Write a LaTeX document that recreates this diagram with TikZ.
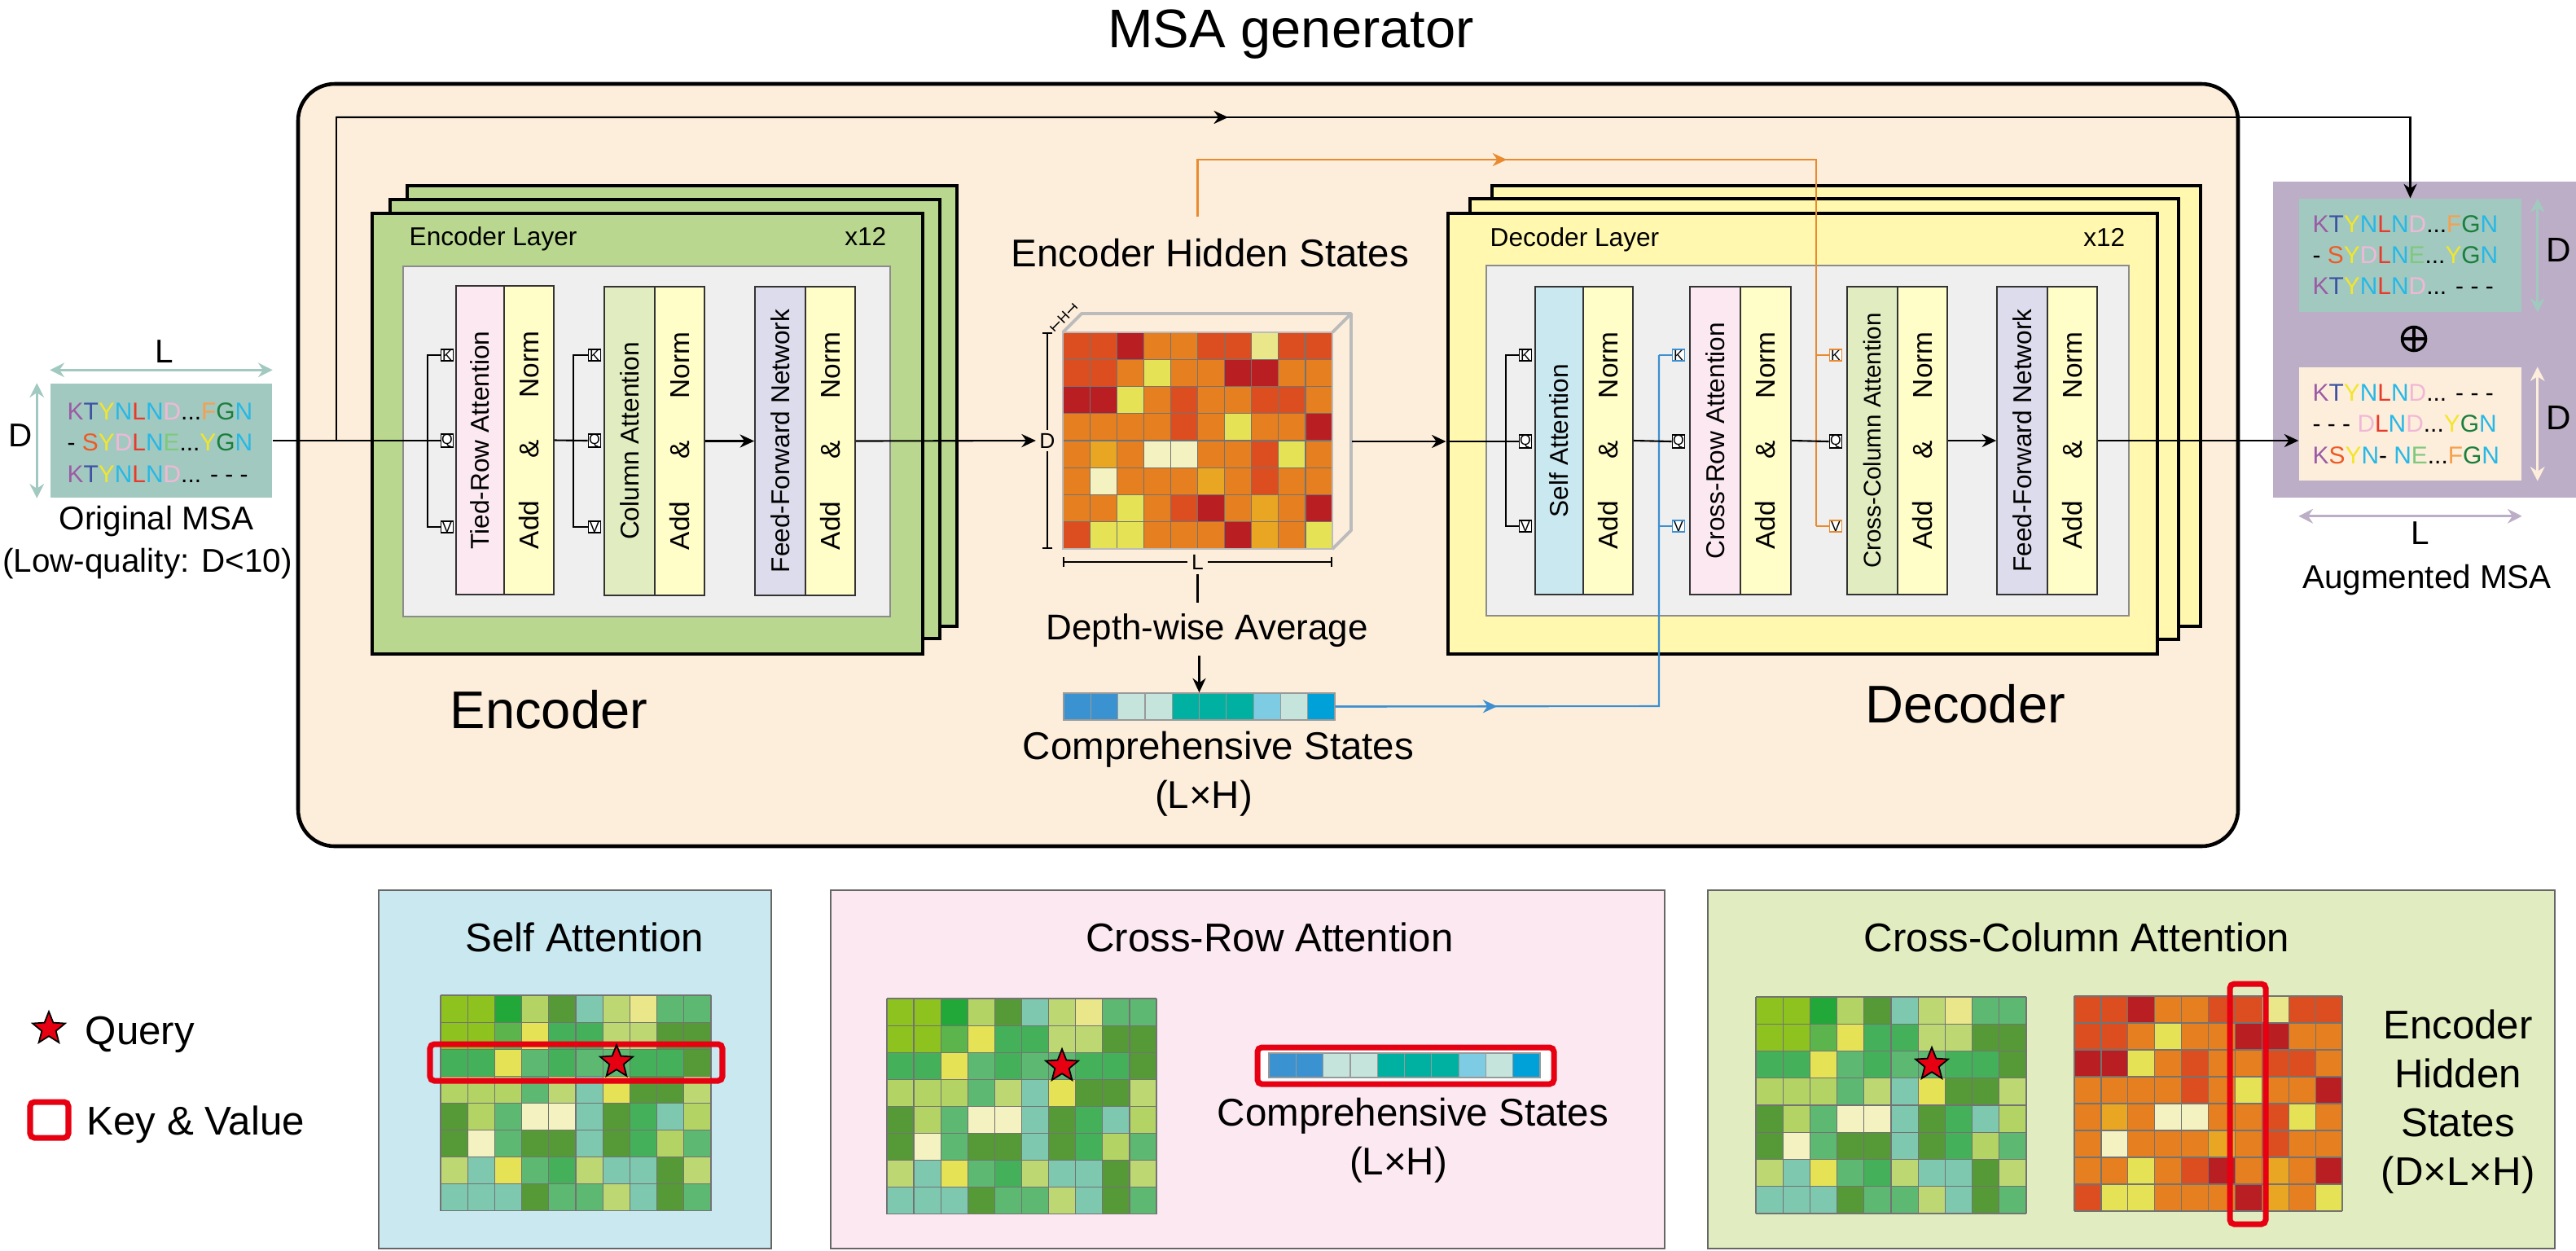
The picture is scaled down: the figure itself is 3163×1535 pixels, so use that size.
\documentclass[tikz,border=0pt]{standalone}
\usepackage{fontspec}
\setmainfont{Liberation Sans}
\usetikzlibrary{shapes.geometric,arrows.meta,calc,fit}

\definecolor{genbg}{HTML}{FDEEDC}
\definecolor{encg}{HTML}{B9D78F}
\definecolor{decy}{HTML}{FFF8AE}
\definecolor{panelg}{HTML}{EFEFEF}
\definecolor{pinkb}{HTML}{FCE8F1}
\definecolor{greenb}{HTML}{E1EDC0}
\definecolor{lavb}{HTML}{DDDCEC}
\definecolor{addn}{HTML}{FFFDC8}
\definecolor{blueb}{HTML}{CAE8F0}
\definecolor{msateal}{HTML}{A2C9C0}
\definecolor{augpur}{HTML}{BCAEC6}
\definecolor{orln}{HTML}{E98A2F}
\definecolor{blln}{HTML}{3C8FD0}
\definecolor{kvred}{HTML}{E60012}
\definecolor{cubegray}{HTML}{BBBBBB}
\definecolor{lP}{HTML}{9B5BA5}
\definecolor{lB}{HTML}{3E52A3}
\definecolor{lY}{HTML}{F2E62A}
\definecolor{lC}{HTML}{27B8E6}
\definecolor{lR}{HTML}{E8392B}
\definecolor{lK}{HTML}{F0B8D6}
\definecolor{lO}{HTML}{F6A04D}
\definecolor{lG}{HTML}{1A7F3C}
\definecolor{lS}{HTML}{EE5A24}
\definecolor{lE}{HTML}{7FC97F}
\definecolor{gYG}{HTML}{8DC21F}
\definecolor{gGR}{HTML}{22A838}
\definecolor{gLG}{HTML}{B3D465}
\definecolor{gDG}{HTML}{559A36}
\definecolor{gTL}{HTML}{7EC8B0}
\definecolor{gPL}{HTML}{BDD873}
\definecolor{gPY}{HTML}{E9E78A}
\definecolor{gMG}{HTML}{5DB872}
\definecolor{gBG}{HTML}{44B05A}
\definecolor{gSG}{HTML}{5BB54C}
\definecolor{gYY}{HTML}{E5E355}
\definecolor{gCR}{HTML}{F3F2C0}
\definecolor{oRR}{HTML}{DC4E20}
\definecolor{oRD}{HTML}{B81E22}
\definecolor{oOR}{HTML}{E57F1F}
\definecolor{oAM}{HTML}{E8A623}
\definecolor{cba}{HTML}{3A93D0}
\definecolor{cbb}{HTML}{C4E4DC}
\definecolor{cbc}{HTML}{00B0A0}
\definecolor{cbd}{HTML}{7ECBE4}
\definecolor{cbe}{HTML}{00A0D8}

\newcommand\fsz[2]{\fontsize{#1}{#2}\selectfont}

\def\greenlist{{gYG,gYG,gGR,gLG,gDG,gTL,gPL,gPY,gMG,gMG},{gYG,gYG,gSG,gYY,gBG,gBG,gPL,gPL,gDG,gDG},{gBG,gBG,gYY,gMG,gBG,gMG,gMG,gBG,gBG,gDG},{gLG,gLG,gLG,gMG,gPL,gTL,gYY,gDG,gDG,gPL},{gDG,gLG,gMG,gCR,gCR,gTL,gDG,gBG,gTL,gLG},{gDG,gCR,gMG,gDG,gDG,gTL,gDG,gBG,gLG,gMG},{gPL,gTL,gYY,gMG,gBG,gPL,gTL,gTL,gDG,gPL},{gTL,gTL,gTL,gDG,gMG,gMG,gPL,gTL,gDG,gMG}}
\def\orangelist{{oRR,oRR,oRD,oOR,oOR,oRR,oRR,gPY,oRR,oRR},{oRR,oRR,oOR,gYY,oOR,oOR,oRD,oRD,oOR,oOR},{oRD,oRD,gYY,oOR,oRR,oOR,oOR,oRR,oRR,oOR},{oOR,oOR,oOR,oOR,oRR,oOR,gYY,oOR,oOR,oRD},{oOR,oAM,oOR,gCR,gCR,oOR,oOR,oRR,gYY,oOR},{oOR,gCR,oOR,oOR,oOR,oAM,oOR,oRR,oOR,oOR},{oOR,oOR,gYY,oOR,oRR,oRD,oOR,oAM,oOR,oRD},{oRR,gYY,gYY,oOR,oOR,oOR,oRD,oAM,oOR,gYY}}

\tikzset{
  gridln/.style={draw=black!55, line width=0.35pt},
  conn/.style={line width=0.6pt, draw=black},
  arr/.style={conn, -{Stealth[length=5pt,width=4.6pt]}},
  layer/.style={draw=black, line width=1.2pt, inner sep=0pt},
  ipanel/.style={draw=black!45, line width=0.5pt, fill=panelg, inner sep=0pt},
  blk/.style={draw=black!80, line width=0.5pt, inner sep=0pt},
  kqvbox/.style={draw, fill=white, line width=0.5pt, minimum width=0.15cm, minimum height=0.14cm, inner sep=0pt, font=\fsz{5}{5}},
  qstar/.style={star, star points=5, star point ratio=2.3, fill=kvred, draw=black, line width=0.5pt, minimum size=0.42cm, inner sep=0pt},
  kvbox/.style={draw=kvred, line width=2pt, rounded corners=1.5pt, inner sep=0pt},
  dimarr/.style={line width=0.9pt, {Stealth[length=5pt,width=5pt]}-{Stealth[length=5pt,width=5pt]}},
  bpanel/.style={draw=black!60, line width=0.5pt, inner sep=0pt},
  oline/.style={draw=orln, line width=0.6pt},
  bline/.style={draw=blln, line width=0.6pt},
  midtip/.style={-{Stealth[length=5pt,width=4.6pt]}},
  dimbar/.style={line width=0.6pt, {Bar[width=3.6pt]}-{Bar[width=3.6pt]}},
  lbl/.style={anchor=base, inner sep=0pt},
}

\newcommand\mblock[7]{%
  \node[blk, fill=#6, fit={(#2,#3) (#4,#5)}] (#1) {};
  \node[rotate=90, font=\fsz{9}{9}, inner sep=0pt] (#1txt) at (#1.center) {#7};
}
\newcommand\AN{\fsz{9.5}{9.5}\makebox[76pt]{Add\hfill\&\hfill Norm}}

\newcommand\cellgrid[6]{%
  \foreach \rowlist [count=\rr from 0] in #5 {
    \foreach \gcol [count=\kk from 0] in \rowlist {
      \fill[fill=\gcol] ({#1+\kk*#3},{#2+\rr*#4}) rectangle ++(#3,#4);
    }
  }
  \foreach \kk in {0,...,10} \draw[gridln] ({#1+\kk*#3},#2) -- ++(0,{8*#4});
  \foreach \rr in {0,...,8} \draw[gridln] (#1,{#2+\rr*#4}) -- ++({10*#3},0);
  \node[fit={(#1,#2) ({#1+10*#3},{#2+8*#4})}, inner sep=0pt] (#6) {};
}
\newcommand\cbar[5]{%
  \foreach \gcol [count=\kk from 0] in {cba,cba,cbb,cbb,cbc,cbc,cbc,cbd,cbb,cbe} {
    \fill[fill=\gcol] ({#1+\kk*#3},#2) rectangle ++(#3,#4);
  }
  \foreach \kk in {0,...,10} \draw[gridln, draw=black!40] ({#1+\kk*#3},#2) -- ++(0,#4);
  \draw[gridln, draw=black!40] (#1,#2) rectangle ++({10*#3},#4);
  \node[fit={(#1,#2) ({#1+10*#3},{#2+#4})}, inner sep=0pt] (#5) {};
}

\newcommand\rowA{\textcolor{lP}{K}\textcolor{lB}{T}\textcolor{lY}{Y}\textcolor{lC}{N}\textcolor{lR}{L}\textcolor{lC}{N}\textcolor{lK}{D}...\textcolor{lO}{F}\textcolor{lG}{G}\textcolor{lC}{N}}
\newcommand\rowB{- \textcolor{lS}{S}\textcolor{lY}{Y}\textcolor{lK}{D}\textcolor{lR}{L}\textcolor{lC}{N}\textcolor{lE}{E}...\textcolor{lY}{Y}\textcolor{lG}{G}\textcolor{lC}{N}}
\newcommand\rowC{\textcolor{lP}{K}\textcolor{lB}{T}\textcolor{lY}{Y}\textcolor{lC}{N}\textcolor{lR}{L}\textcolor{lC}{N}\textcolor{lK}{D}... - - -}
\newcommand\rowD{- - - \textcolor{lK}{D}\textcolor{lR}{L}\textcolor{lC}{N}\textcolor{lK}{D}...\textcolor{lY}{Y}\textcolor{lG}{G}\textcolor{lC}{N}}
\newcommand\rowE{\textcolor{lP}{K}\textcolor{lS}{S}\textcolor{lY}{Y}\textcolor{lC}{N}- \textcolor{lC}{N}\textcolor{lE}{E}...\textcolor{lO}{F}\textcolor{lG}{G}\textcolor{lC}{N}}

\begin{document}
\begin{tikzpicture}[x=0.01cm,y=-0.01cm]
\path[use as bounding box, fill=white] (0,0) rectangle (3163,1535);

% title and generator frame
\node[lbl, font=\fsz{19}{19}] (title) at (1585,58) {MSA generator};
\node[fit={(366,103) (2748,1039)}, draw, line width=1.3pt, rounded corners=0.45cm, fill=genbg, inner sep=0pt] (gen) {};

% original MSA
\node[fit={(62,471) (334,611)}, fill=msateal, inner sep=0pt] (msa) {};
\node[anchor=base west, inner sep=0pt, font=\fsz{8.5}{8.5}] (msa1) at (82,515) {\rowA};
\node[anchor=base west, inner sep=0pt, font=\fsz{8.5}{8.5}] (msa2) at (82,553) {\rowB};
\node[anchor=base west, inner sep=0pt, font=\fsz{8.5}{8.5}] (msa3) at (82,592) {\rowC};
\draw[dimarr, msateal] ([yshift=0.16cm]msa.north west) -- ([yshift=0.16cm]msa.north east);
\draw[dimarr, msateal] ([xshift=-0.16cm]msa.north west) -- ([xshift=-0.16cm]msa.south west);
\node[lbl, font=\fsz{11.5}{11.5}] (msaL) at (202,445) {L};
\node[lbl, font=\fsz{11.5}{11.5}] (msaD) at (25,548) {D};
\node[lbl, font=\fsz{11.5}{11.5}] (msacap1) at (192,650) {Original MSA};
\node[lbl, font=\fsz{11.5}{11.5}] (msacap2) at (181,702) {(Low-quality: D<10)};

% encoder
\node[layer, fill=encg, fit={(500,228) (1175,769)}] (encL3) {};
\node[layer, fill=encg, fit={(479,245) (1154,784)}] (encL2) {};
\node[layer, fill=encg, fit={(457,262) (1133,803)}] (enc) {};
\node[anchor=base west, inner sep=0pt, font=\fsz{9}{9}] (enclab) at (502,301) {Encoder Layer};
\node[anchor=base east, inner sep=0pt, font=\fsz{9}{9}] (encx) at (1089,301) {x12};
\node[ipanel, fit={(495,327) (1093,757)}] (encp) {};
\mblock{tra}{560}{351}{619}{730}{pinkb}{Tied-Row Attention}
\mblock{an1}{619}{351}{680}{730}{addn}{\AN}
\mblock{ca}{742}{352}{804}{731}{greenb}{Column Attention}
\mblock{an2}{804}{352}{865}{731}{addn}{\AN}
\mblock{effn}{927}{352}{989}{731}{lavb}{Feed-Forward Network}
\mblock{an3}{989}{352}{1050}{731}{addn}{\AN}
\node[kqvbox] (trK) at (549,436) {K};
\node[kqvbox] (trQ) at (549,541) {Q};
\node[kqvbox] (trV) at (549,647) {V};
\node[kqvbox] (caK) at (730,436) {K};
\node[kqvbox] (caQ) at (730,541) {Q};
\node[kqvbox] (caV) at (730,647) {V};
\draw[conn, line width=0.5pt] (trK.west) -- ++(-16,0) |- (trV.west);
\draw[conn, line width=0.5pt] (caK.west) -- ++(-18,0) |- (caV.west);
\draw[conn] (msa.east) -- (trQ.west);
\draw[conn] (an1.east) -- (caQ.west);
\draw[arr] (an2.east) -- (effn.west);
\node[lbl, font=\fsz{18.5}{18.5}] (enctitle) at (674,894) {Encoder};

% encoder hidden states cube
\node[lbl, font=\fsz{13.5}{13.5}] (ehs) at (1486,327) {Encoder Hidden States};
\cellgrid{1305}{408}{33.1}{33.25}{\orangelist}{cube}
\draw[cubegray, line width=0.6pt] (1305,408) rectangle (1636,674);
\draw[cubegray, line width=1.1pt, line join=round] (1305,408) -- (1328,385) -- (1659,385) -- (1659,651) -- (1636,674);
\draw[cubegray, line width=1.1pt] (1636,408) -- (1659,385);
\node[fit={(1305,385) (1659,674)}, inner sep=0pt] (cubeall) {};
\draw[dimbar] (1286,408) -- (1286,674) node[midway, fill=genbg, inner sep=1pt, font=\fsz{7.5}{7.5}] (cubeD) {D};
\draw[dimbar] (1305,690) -- (1636,690) node[midway, fill=genbg, inner sep=1.5pt, font=\fsz{7.5}{7.5}] (cubeL) {L};
\draw[line width=0.4pt, {Bar[width=2.5pt]}-{Bar[width=2.5pt]}] (1292,404) -- (1320,375) node[midway, sloped, fill=genbg, inner sep=0.3pt, font=\fsz{5}{5}] (cubeH) {H};
\draw[arr] (an3.east) -- (cubeD.west);
\node[lbl, font=\fsz{12.5}{12.5}] (dwa) at (1482,785) {Depth-wise Average};
\draw[conn] (cubeL.south) -- ([yshift=0.12cm]cubeL.south |- dwa.north);
\cbar{1306}{851}{33.3}{33}{comp}
\draw[arr] ([yshift=-0.1cm]comp.north |- dwa.south) -- (comp.north);
\node[lbl, font=\fsz{13.5}{13.5}] (cst) at (1496,932) {Comprehensive States};
\node[lbl, font=\fsz{13.5}{13.5}] (cstd) at (1478,992) {(L×H)};

% decoder
\node[layer, line width=1.4pt, fill=decy, fit={(1832,228) (2702,769)}] (decL3) {};
\node[layer, line width=1.4pt, fill=decy, fit={(1805,244) (2675,785)}] (decL2) {};
\node[layer, line width=1.4pt, fill=decy, fit={(1778,262) (2649,803)}] (dec) {};
\node[anchor=base west, inner sep=0pt, font=\fsz{9}{9}] (declab) at (1829,302) {Decoder Layer};
\node[anchor=base east, inner sep=0pt, font=\fsz{9}{9}] (decx) at (2610,302) {x12};
\node[ipanel, fit={(1825,326) (2614,756)}] (decp) {};
\mblock{sa}{1885}{352}{1944}{730}{blueb}{Self Attention}
\mblock{dan1}{1944}{352}{2005}{730}{addn}{\AN}
\mblock{cr}{2075}{352}{2137}{730}{pinkb}{Cross-Row Attention}
\mblock{dan2}{2137}{352}{2199}{730}{addn}{\AN}
\mblock{cc}{2268}{352}{2330}{730}{greenb}{\fsz{8.4}{8.4}Cross-Column Attention}
\mblock{dan3}{2330}{352}{2391}{730}{addn}{\AN}
\mblock{dffn}{2452}{352}{2514}{730}{lavb}{Feed-Forward Network}
\mblock{dan4}{2514}{352}{2575}{730}{addn}{\AN}
\node[lbl, font=\fsz{18.5}{18.5}] (dectitle) at (2413,887) {Decoder};

% cube to decoder
\draw[arr] (cubeall.east |- 0,542) -- (dec.west |- 0,542);

% orange and blue feeds
\coordinate (oturn) at (2230,196);
\coordinate (bturn) at (2037,867);
\draw[oline] ([yshift=0.26cm]cube.north |- ehs.north) |- (oturn) -- (oturn |- 0,646);
\draw[oline, midtip] (cube.north |- oturn) -- ($(cube.north |- oturn)!0.5!(oturn)$);
\draw[bline] (comp.east) -- (bturn) -- (bturn |- 0,436);
\draw[bline, midtip] (comp.east) -- ($(comp.east)!0.5!(bturn)$);

\node[kqvbox] (saK) at (1873,436) {K};
\node[kqvbox] (saQ) at (1873,542) {Q};
\node[kqvbox] (saV) at (1873,646) {V};
\node[kqvbox, draw=blln] (crK) at (2061,436) {K};
\node[kqvbox] (crQ) at (2061,542) {Q};
\node[kqvbox, draw=blln] (crV) at (2061,646) {V};
\node[kqvbox, draw=orln] (ccK) at (2254,436) {K};
\node[kqvbox] (ccQ) at (2254,542) {Q};
\node[kqvbox, draw=orln] (ccV) at (2254,646) {V};
\draw[conn] (dec.west |- saQ) -- (saQ.west);
\draw[conn, line width=0.5pt] (saK.west) -- ++(-16,0) |- (saV.west);
\draw[bline] (bturn |- crK) -- (crK.west);
\draw[bline] (bturn |- crV) -- (crV.west);
\draw[oline] (oturn |- ccK) -- (ccK.west);
\draw[oline] (oturn |- ccV) -- (ccV.west);
\draw[conn] (dan1.east) -- (crQ.west);
\draw[conn] (dan2.east) -- (ccQ.west);
\draw[arr] (dan3.east) -- (dffn.west);

% augmented MSA
\node[fit={(2791,223) (3163,611)}, fill=augpur, inner sep=0pt] (aug) {};
\node[fit={(2823,244) (3096,383)}, fill=msateal, inner sep=0pt] (augtop) {};
\node[fit={(2823,451) (3096,590)}, fill=genbg, inner sep=0pt] (augbot) {};
\node[anchor=base west, inner sep=0pt, font=\fsz{8.5}{8.5}] (at1) at (2839,285) {\rowA};
\node[anchor=base west, inner sep=0pt, font=\fsz{8.5}{8.5}] (at2) at (2839,323) {\rowB};
\node[anchor=base west, inner sep=0pt, font=\fsz{8.5}{8.5}] (at3) at (2839,361) {\rowC};
\node[anchor=base west, inner sep=0pt, font=\fsz{8.5}{8.5}] (ab1) at (2839,492) {\rowC};
\node[anchor=base west, inner sep=0pt, font=\fsz{8.5}{8.5}] (ab2) at (2839,530) {\rowD};
\node[anchor=base west, inner sep=0pt, font=\fsz{8.5}{8.5}] (ab3) at (2839,569) {\rowE};
\node[circle, draw, line width=1pt, minimum size=0.29cm, inner sep=0pt] (oplus) at (2964,416) {};
\draw[line width=1pt] (oplus.north) -- (oplus.south) (oplus.west) -- (oplus.east);
\draw[dimarr, msateal] ([xshift=0.19cm]augtop.north east) -- ([xshift=0.19cm]augtop.south east);
\draw[dimarr, genbg] ([xshift=0.19cm]augbot.north east) -- ([xshift=0.19cm]augbot.south east);
\draw[dimarr, augpur] ([yshift=-0.43cm]augbot.south west) -- ([yshift=-0.43cm]augbot.south east);
\node[lbl, font=\fsz{12}{12}] (augD1) at (3142,321) {D};
\node[lbl, font=\fsz{12}{12}] (augD2) at (3142,527) {D};
\node[lbl, font=\fsz{11.5}{11.5}] (augL) at (2972,668) {L};
\node[lbl, font=\fsz{11.5}{11.5}] (augcap) at (2980,722) {Augmented MSA};

% skip connection and output
\coordinate (sk) at (413,541);
\coordinate (skt) at (413,144);
\draw[arr] (sk) -- (skt) -- (skt -| augtop.north) -- (augtop.north);
\draw[conn, midtip] (skt) -- ($(skt)!0.43!(skt -| augtop.north)$);
\draw[arr] (dan4.east) -- (augbot.west |- dan4.east);

% legend
\node[qstar] (lgq) at (60,1263) {};
\node[anchor=base west, inner sep=0pt, font=\fsz{14}{14}] (lgqt) at (104,1282) {Query};
\node[kvbox, fill=white, fit={(37,1353) (84,1397)}] (lgkv) {};
\node[anchor=base west, inner sep=0pt, font=\fsz{14}{14}] (lgkvt) at (106,1393) {Key \& Value};

% self attention panel
\node[bpanel, fill=blueb, fit={(465,1093) (947,1533)}] (sap) {};
\node[lbl, font=\fsz{14}{14}] (sapt) at (718,1168) {Self Attention};
\cellgrid{541}{1222}{33.2}{33.1}{\greenlist}{sagrid}
\node[kvbox, fit={(528,1282) (887,1327)}] (sakv) {};
\node[qstar] (saq) at (757,1304) {};

% cross-row panel
\node[bpanel, fill=pinkb, fit={(1020,1093) (2044,1533)}] (crp) {};
\node[lbl, font=\fsz{14}{14}] (crpt) at (1559,1168) {Cross-Row Attention};
\cellgrid{1089}{1226}{33.1}{33.1}{\greenlist}{crgrid}
\node[qstar] (crq) at (1304,1309) {};
\node[kvbox, fill=white, fit={(1544,1286) (1908,1331)}] (crkv) {};
\cbar{1558}{1293}{33.3}{30}{crbar}
\node[lbl, font=\fsz{13.5}{13.5}] (crcs) at (1735,1382) {Comprehensive States};
\node[lbl, font=\fsz{13.5}{13.5}] (crcsd) at (1717,1442) {(L×H)};

% cross-column panel
\node[bpanel, fill=greenb, fit={(2097,1093) (3137,1533)}] (ccp) {};
\node[lbl, font=\fsz{14}{14}] (ccpt) at (2550,1168) {Cross-Column Attention};
\cellgrid{2156}{1224}{33.2}{33.25}{\greenlist}{ccgrid}
\node[qstar] (ccq) at (2372,1307) {};
\cellgrid{2547}{1223}{32.9}{33}{\orangelist}{ccogrid}
\node[kvbox, fit={(2738,1208) (2782,1503)}] (cckv) {};
\node[lbl, font=\fsz{14}{14}] (cce1) at (3018,1275) {Encoder};
\node[lbl, font=\fsz{14}{14}] (cce2) at (3018,1335) {Hidden};
\node[lbl, font=\fsz{14}{14}] (cce3) at (3018,1395) {States};
\node[lbl, font=\fsz{14}{14}] (cce4) at (3018,1455) {(D×L×H)};
\end{tikzpicture}
\end{document}
